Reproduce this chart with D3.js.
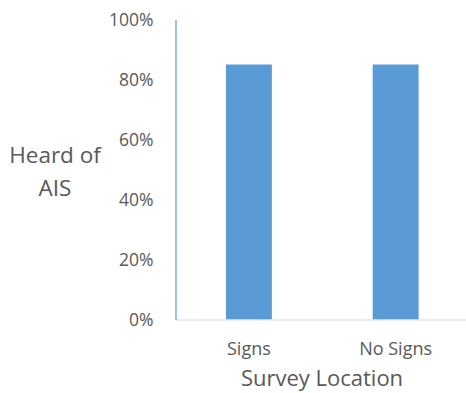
<!DOCTYPE html>
<html>
<head>
<meta charset="utf-8">
<script src="https://cdn.jsdelivr.net/npm/d3@7/dist/d3.min.js"></script>
<style>
  body { margin: 0; background: #fff; }
  text { font-family: "Open Sans", "Liberation Sans", sans-serif; fill: #595959; }
</style>
</head>
<body>
<div id="chart"></div>
<script>
// data
const categories = ["Signs", "No Signs"];
const values = [0.85, 0.85];
const yTicks = [0, 0.2, 0.4, 0.6, 0.8, 1.0];

const width = 466, height = 393;
const plot = { left: 175.5, right: 469, top: 19.5, bottom: 319.5 };

const svg = d3.select("#chart").append("svg")
    .attr("width", width)
    .attr("height", height);

// scales
const x = d3.scaleBand()
    .domain(categories)
    .range([plot.left, plot.right])
    .padding(0);

const barW = x.bandwidth() * 0.313;

const y = d3.scaleLinear()
    .domain([0, 1])
    .range([plot.bottom, plot.top]);

// bars
svg.selectAll("rect.bar")
    .data(categories)
    .enter()
    .append("rect")
    .attr("class", "bar")
    .attr("x", (d) => x(d) + (x.bandwidth() - barW) / 2)
    .attr("y", (d, i) => y(values[i]))
    .attr("width", barW)
    .attr("height", (d, i) => plot.bottom - y(values[i]))
    .attr("fill", "#5b9bd5");

// x axis
const xAxis = svg.append("g")
    .attr("transform", `translate(0, ${plot.bottom})`)
    .call(d3.axisBottom(x).tickSize(0).tickPadding(23));
xAxis.select(".domain").attr("stroke", "#d9d9d9").attr("stroke-width", 1.2);
xAxis.selectAll("text")
    .style("font-family", "'Open Sans', sans-serif")
    .style("font-size", "18px")
    .attr("fill", "#595959");

// y axis
const yAxis = svg.append("g")
    .attr("transform", `translate(${plot.left}, 0)`)
    .call(d3.axisLeft(y).tickValues(yTicks).tickFormat(d3.format(".0%")).tickSize(0).tickPadding(22));
yAxis.select(".domain").attr("stroke", "#5b9bd5").attr("stroke-width", 1.2);
yAxis.selectAll("text")
    .style("font-family", "'Open Sans', sans-serif")
    .style("font-size", "17.5px")
    .attr("fill", "#595959");

// axis titles
svg.append("text")
    .attr("x", 322)
    .attr("y", 386)
    .attr("text-anchor", "middle")
    .style("font-size", "22px")
    .text("Survey Location");

const yTitle = svg.append("text")
    .attr("text-anchor", "middle")
    .style("font-size", "22.5px");
yTitle.append("tspan").attr("x", 55).attr("y", 163).text("Heard of");
yTitle.append("tspan").attr("x", 55).attr("y", 196).text("AIS");
</script>
</body>
</html>
